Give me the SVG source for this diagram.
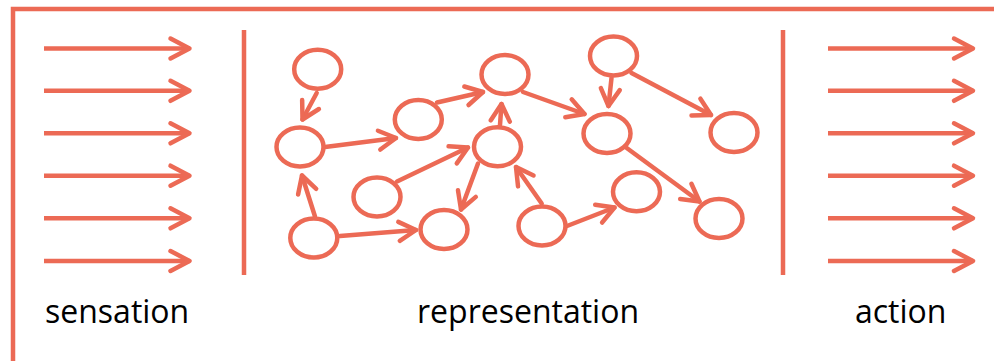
<svg xmlns="http://www.w3.org/2000/svg" width="994" height="361" viewBox="0 0 994 361">
<defs>
<style>
.ln{stroke:#EC6A55;stroke-width:4.5;fill:none}
.ar{stroke:#EC6A55;stroke-width:4.5;fill:none;marker-end:url(#big)}
.nd{stroke:#EC6A55;stroke-width:4.5;fill:#fff}
.ed{stroke:#EC6A55;stroke-width:4.5;fill:none;stroke-linecap:round;marker-end:url(#sm)}
.lb{font-family:"Open Sans","Liberation Sans",sans-serif;font-size:32px;fill:#000}
</style>
<marker id="big" markerUnits="userSpaceOnUse" orient="auto" refX="0" refY="0" markerWidth="40" markerHeight="40" overflow="visible">
<path d="M-19,-10 L0,0 L-19,10" fill="none" stroke="#EC6A55" stroke-width="4.5" stroke-linecap="round" stroke-linejoin="round"/>
</marker>
<marker id="sm" markerUnits="userSpaceOnUse" orient="auto" refX="0" refY="0" markerWidth="40" markerHeight="40" overflow="visible">
<path d="M-17,-9.5 L0,0 L-17,9.5" fill="none" stroke="#EC6A55" stroke-width="4.5" stroke-linecap="round" stroke-linejoin="round"/>
</marker>
</defs>
<rect x="13" y="9" width="1000" height="400" class="ln"/>
<g id="sensation-arrows">
<line x1="44" y1="48.5" x2="189.5" y2="48.5" class="ar"/>
<line x1="44" y1="90.8" x2="189.5" y2="90.8" class="ar"/>
<line x1="44" y1="133.3" x2="189.5" y2="133.3" class="ar"/>
<line x1="44" y1="175.7" x2="189.5" y2="175.7" class="ar"/>
<line x1="44" y1="218.3" x2="189.5" y2="218.3" class="ar"/>
<line x1="44" y1="261" x2="189.5" y2="261" class="ar"/>
</g>
<g id="action-arrows">
<line x1="828" y1="48.5" x2="973" y2="48.5" class="ar"/>
<line x1="828" y1="90.8" x2="973" y2="90.8" class="ar"/>
<line x1="828" y1="133.3" x2="973" y2="133.3" class="ar"/>
<line x1="828" y1="175.7" x2="973" y2="175.7" class="ar"/>
<line x1="828" y1="218.3" x2="973" y2="218.3" class="ar"/>
<line x1="828" y1="261" x2="973" y2="261" class="ar"/>
</g>
<g id="dividers">
<line x1="244" y1="30" x2="244" y2="275" class="ln"/>
<line x1="783" y1="30" x2="783" y2="275" class="ln"/>
</g>
<g id="connectors">
<line x1="316.7" y1="93" x2="302.5" y2="119.5" class="ed"/>
<line x1="325" y1="147" x2="396" y2="138" class="ed"/>
<line x1="437" y1="102.5" x2="483" y2="92" class="ed"/>
<line x1="500" y1="125" x2="501.5" y2="104" class="ed"/>
<line x1="523" y1="92" x2="584.5" y2="114" class="ed"/>
<line x1="611.5" y1="78" x2="608.5" y2="106" class="ed"/>
<line x1="631.5" y1="73" x2="711" y2="115" class="ed"/>
<line x1="626.7" y1="148" x2="699.5" y2="201.5" class="ed"/>
<line x1="315" y1="216.5" x2="302" y2="175.5" class="ed"/>
<line x1="397" y1="181.5" x2="468" y2="147.5" class="ed"/>
<line x1="478" y1="163.5" x2="461" y2="209.5" class="ed"/>
<line x1="340" y1="236" x2="416" y2="230" class="ed"/>
<line x1="541.7" y1="203.5" x2="516" y2="167" class="ed"/>
<line x1="567" y1="226" x2="614.5" y2="207.5" class="ed"/>
</g>
<g id="n1"><ellipse cx="317.7" cy="69.3" rx="23.5" ry="19.5" class="nd"/></g>
<g id="n2"><ellipse cx="300" cy="147" rx="23.5" ry="19.5" class="nd"/></g>
<g id="n3"><ellipse cx="418.3" cy="119.5" rx="23.5" ry="19.5" class="nd"/></g>
<g id="n4"><ellipse cx="505" cy="74.5" rx="23.5" ry="19.5" class="nd"/></g>
<g id="n5"><ellipse cx="497.5" cy="146.7" rx="23.5" ry="19.5" class="nd"/></g>
<g id="n6"><ellipse cx="377" cy="197" rx="23.5" ry="19.5" class="nd"/></g>
<g id="n7"><ellipse cx="313.8" cy="238" rx="23.5" ry="19.5" class="nd"/></g>
<g id="n8"><ellipse cx="444" cy="229.5" rx="23.5" ry="19.5" class="nd"/></g>
<g id="n9"><ellipse cx="613.5" cy="56" rx="23.5" ry="19.5" class="nd"/></g>
<g id="n10"><ellipse cx="607" cy="133.5" rx="23.5" ry="19.5" class="nd"/></g>
<g id="n11"><ellipse cx="734" cy="132.5" rx="23.5" ry="19.5" class="nd"/></g>
<g id="n12"><ellipse cx="636.5" cy="191.7" rx="23.5" ry="19.5" class="nd"/></g>
<g id="n13"><ellipse cx="719" cy="218.5" rx="23.5" ry="19.5" class="nd"/></g>
<g id="n14"><ellipse cx="542" cy="226" rx="23.5" ry="19.5" class="nd"/></g>
<g id="labels">
<text x="45" y="323" class="lb">sensation</text>
<text x="417" y="323" class="lb">representation</text>
<text x="855" y="323" class="lb">action</text>
</g>
</svg>
